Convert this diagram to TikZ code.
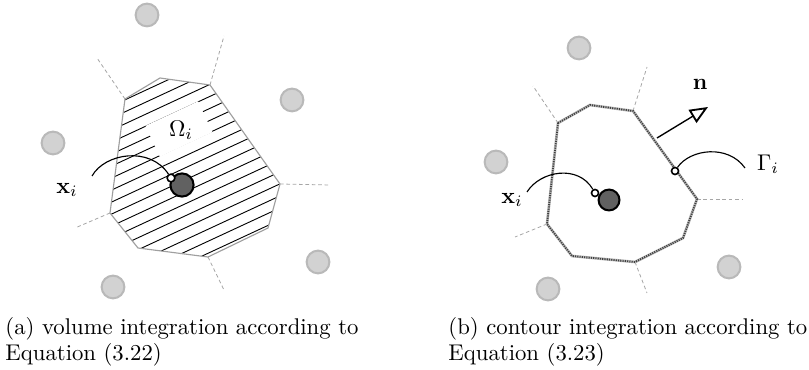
\documentclass[tikz,border=0pt]{standalone}
\usepackage{amsmath,amssymb}
\usetikzlibrary{arrows.meta,positioning,calc}

\begin{document}
\begin{tikzpicture}[
  x=0.44pt, y=-0.44pt,
  font=\normalsize,
  site/.style={circle, draw=gray!55, line width=0.9pt, fill=gray!35, minimum size=10pt, inner sep=0pt},
  seed/.style={circle, draw=black, line width=0.9pt, fill=black!62, minimum size=10pt, inner sep=0pt},
  probe/.style={circle, draw=black, line width=0.7pt, fill=white, minimum size=3.4pt, inner sep=0pt},
  ridge/.style={draw=gray!70, line width=0.35pt, dash pattern=on 1.6pt off 1.2pt},
  cell/.style={draw=gray!75, line width=0.5pt},
  hatch/.style={draw=black, line width=0.4pt},
  leader/.style={draw=black, line width=0.5pt},
  normal/.style={-{Triangle[open, length=8pt, width=6.6pt, line width=0.8pt]}, line width=0.6pt}
]
  \useasboundingbox (0,0) rectangle (809,370);

  % (a) volume integration
  \coordinate (a1) at (125,99);
  \coordinate (a2) at (160,78);
  \coordinate (a3) at (210,85);
  \coordinate (a4) at (280,184);
  \coordinate (a5) at (268,228);
  \coordinate (a6) at (208,257);
  \coordinate (a7) at (138,248);
  \coordinate (a8) at (110,213);

  \coordinate (ra1) at (97,58);
  \coordinate (ra3) at (224,36);
  \coordinate (ra4) at (330,185);
  \coordinate (ra6) at (224,290);
  \coordinate (ra8) at (75,228);

  \begin{scope}
    \clip (a1) -- (a2) -- (a3) -- (a4) -- (a5) -- (a6) -- (a7) -- (a8) -- cycle;
    \foreach \k in {0,...,20}
      \draw[hatch] (60,106+12*\k) -- ++(280,-130);
  \end{scope}
  \fill[white, rotate around={25:(179,129)}] (150,112) rectangle (208,146);

  \draw[cell] (a1) -- (a2) -- (a3) -- (a4) -- (a5) -- (a6) -- (a7) -- (a8) -- cycle;
  \draw[ridge] (a1) -- (ra1);
  \draw[ridge] (a3) -- (ra3);
  \draw[ridge] (a4) -- (ra4);
  \draw[ridge] (a6) -- (ra6);
  \draw[ridge] (a8) -- (ra8);

  \node[site] (sa1) at (147,15) {};
  \node[site] (sa2) at (292,100) {};
  \node[site] (sa3) at (53,143) {};
  \node[site] (sa4) at (318,262) {};
  \node[site] (sa5) at (113,287) {};

  \node (omega) at (181,130) {$\Omega_i$};

  \node[seed, minimum size=10.2pt] (seeda) at (182,185) {};
  \node[probe] (probea) at (171,178) {};
  \node (xa) at (67,190) {$\mathbf{x}_i$};
  \coordinate (la) at (92,176);
  \draw[leader] (la) .. controls (105,153) and (150,146) .. (probea);

  \node[anchor=base west, inner sep=0pt] (capa1) at (5,335) {(a) volume integration according to};
  \node[anchor=base west, inner sep=0pt] (capa2) at (5,361) {Equation (3.22)};

  % (b) contour integration
  \coordinate (b1) at (558,123);
  \coordinate (b2) at (590,105);
  \coordinate (b3) at (633,111);
  \coordinate (b4) at (697,199);
  \coordinate (b5) at (683,238);
  \coordinate (b6) at (635,262);
  \coordinate (b7) at (572,256);
  \coordinate (b8) at (547,224);

  \coordinate (rb1) at (533,86);
  \coordinate (rb3) at (647,67);
  \coordinate (rb4) at (742,199);
  \coordinate (rb6) at (647,293);
  \coordinate (rb8) at (515,237);

  \draw[ridge] (b1) -- (rb1);
  \draw[ridge] (b3) -- (rb3);
  \draw[ridge] (b4) -- (rb4);
  \draw[ridge] (b6) -- (rb6);
  \draw[ridge] (b8) -- (rb8);
  \draw[draw=gray!55, line width=1.2pt] (b1) -- (b2) -- (b3) -- (b4) -- (b5) -- (b6) -- (b7) -- (b8) -- cycle;
  \draw[draw=black!75, line width=0.8pt, dash pattern=on 0.5pt off 0.5pt] (b1) -- (b2) -- (b3) -- (b4) -- (b5) -- (b6) -- (b7) -- (b8) -- cycle;

  \node[site] (sb1) at (579,48) {};
  \node[site] (sb2) at (496,162) {};
  \node[site] (sb3) at (729,267) {};
  \node[site] (sb4) at (548,289) {};

  \node[seed, minimum size=9.2pt] (seedb) at (609,200) {};
  \node[probe, minimum size=3.1pt] (probeb) at (595,193) {};
  \node (xb) at (512,200) {$\mathbf{x}_i$};
  \coordinate (lb) at (527,192);
  \draw[leader] (lb) .. controls (540,171) and (578,164) .. (probeb);

  \coordinate (nb) at (657,138);
  \coordinate (nt) at (708,107);
  \draw[normal] (nb) -- (nt);
  \node (nlab) at (700,84) {$\mathbf{n}$};

  \node[probe, minimum size=3.1pt] (gam) at (675,171) {};
  \coordinate (lg) at (745,168);
  \draw[leader] (gam) .. controls (690,149) and (728,144) .. (lg);
  \node (glab) at (768,164) {$\Gamma_i$};

  \node[anchor=base west, inner sep=0pt] (capb1) at (448,335) {(b) contour integration according to};
  \node[anchor=base west, inner sep=0pt] (capb2) at (448,361) {Equation (3.23)};
\end{tikzpicture}
\end{document}
